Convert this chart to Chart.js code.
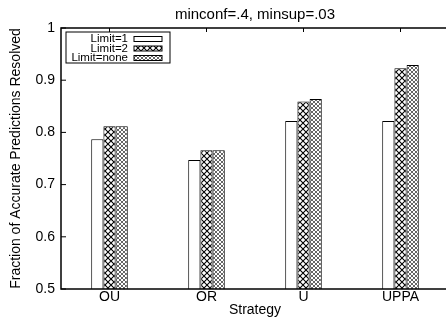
<!DOCTYPE html>
<html>
<head>
<meta charset="utf-8">
<script src="https://cdn.jsdelivr.net/npm/chart.js@4"></script>
<style>
  html, body { margin: 0; padding: 0; background: #fff; overflow: hidden; }
  #wrap { width: 452px; height: 320px; }
</style>
</head>
<body>
<div id="wrap"><canvas id="chart" width="452" height="320"></canvas></div>
<script>
// values
const strategies = ['OU', 'OR', 'U', 'UPPA'];
const limit1 = [0.787, 0.747, 0.822, 0.822];
const limit2 = [0.812, 0.766, 0.859, 0.923];
const limitNone = [0.812, 0.766, 0.864, 0.929];
const yTicks = [0.5, 0.6, 0.7, 0.8, 0.9, 1];
const chartTitle = 'minconf=.4, minsup=.03';

const FONT = 'Liberation Sans, Arial, Helvetica, sans-serif';

// hatch fills like the gnuplot patterns
function makePattern(kind) {
    const c = document.createElement('canvas');
    const s = kind === 'cross' ? 6 : 4;
    c.width = s; c.height = s;
    const g = c.getContext('2d');
    g.fillStyle = '#fff';
    g.fillRect(0, 0, s, s);
    g.strokeStyle = kind === 'cross' ? '#000' : '#555';
    g.lineWidth = kind === 'cross' ? 1.1 : 0.9;
    g.beginPath();
    g.moveTo(0, 0); g.lineTo(s, s);
    g.moveTo(s, 0); g.lineTo(0, s);
    g.stroke();
    return g.createPattern(c, 'repeat');
}

const ctx = document.getElementById('chart').getContext('2d');
const fills = ['#ffffff', makePattern('cross'), makePattern('fine')];

// frame, inward ticks, title over the plot and the boxed legend
const framePlugin = {
    id: 'frame',
    afterDraw(chart) {
        const a = chart.chartArea;
        const c = chart.ctx;
        c.save();
        c.strokeStyle = '#000';
        c.lineWidth = 1.5;
        c.strokeRect(a.left, a.top, a.right - a.left, a.bottom - a.top);

        c.lineWidth = 1;
        const ys = chart.scales.y;
        ys.ticks.forEach((t, i) => {
            const py = ys.getPixelForTick(i);
            c.beginPath();
            c.moveTo(a.left, py); c.lineTo(a.left + 5, py);
            c.stroke();
        });
        const xs = chart.scales.x;
        xs.ticks.forEach((t, i) => {
            const px = xs.getPixelForTick(i);
            c.beginPath();
            c.moveTo(px, a.top); c.lineTo(px, a.top + 4);
            c.stroke();
        });

        c.fillStyle = '#000';
        c.font = '15px ' + FONT;
        c.textAlign = 'center';
        c.textBaseline = 'alphabetic';
        c.fillText(chartTitle, (a.left + a.right) / 2, 19);

        // legend box
        const bx = a.left + 5, by = a.top + 4, bw = 104, bh = 31;
        c.fillStyle = '#fff';
        c.fillRect(bx, by, bw, bh);
        c.strokeRect(bx, by, bw, bh);
        c.font = '11.5px ' + FONT;
        c.textAlign = 'right';
        c.textBaseline = 'middle';
        chart.data.datasets.forEach((ds, i) => {
            const ry = by + 7 + i * 9.5;
            c.fillStyle = '#000';
            c.fillText(ds.label, bx + 62, ry);
            c.fillStyle = ds.backgroundColor;
            c.fillRect(bx + 68, ry - 2.5, 28, 5);
            c.strokeRect(bx + 68, ry - 2.5, 28, 5);
        });
        c.restore();
    }
};

new Chart(ctx, {
    type: 'bar',
    data: {
        labels: strategies,
        datasets: [
            { label: 'Limit=1', data: limit1, backgroundColor: fills[0] },
            { label: 'Limit=2', data: limit2, backgroundColor: fills[1] },
            { label: 'Limit=none', data: limitNone, backgroundColor: fills[2] }
        ].map(d => Object.assign(d, {
            borderColor: '#000',
            borderWidth: 1,
            borderSkipped: false,
            categoryPercentage: 0.377,
            barPercentage: 1
        }))
    },
    options: {
        responsive: false,
        animation: false,
        layout: { padding: { left: 0, right: 3, top: 28, bottom: 0 } },
        plugins: {
            legend: { display: false },
            tooltip: { enabled: false },
            title: { display: false }
        },
        scales: {
            x: {
                grid: { display: false, drawTicks: false },
                border: { display: false },
                ticks: { color: '#000', font: { family: FONT, size: 14 }, padding: 0, maxRotation: 0 },
                title: {
                    display: true,
                    text: 'Strategy',
                    color: '#000',
                    font: { family: FONT, size: 14 },
                    padding: { top: 0, bottom: 1 }
                },
                afterFit(scale) { scale.height = 31; }
            },
            y: {
                min: 0.5,
                max: 1,
                afterBuildTicks(scale) { scale.ticks = yTicks.map(v => ({ value: v })); },
                grid: { display: false, drawTicks: false },
                border: { display: false },
                ticks: {
                    color: '#000',
                    font: { family: FONT, size: 14 },
                    padding: 6,
                    callback: v => String(Math.round(v * 10) / 10)
                },
                title: {
                    display: true,
                    text: 'Fraction of Accurate Predictions Resolved',
                    color: '#000',
                    font: { family: FONT, size: 14 },
                    padding: { top: 8, bottom: 0 }
                },
                afterFit(scale) { scale.width = 61; }
            }
        }
    },
    plugins: [framePlugin]
});
</script>
</body>
</html>
